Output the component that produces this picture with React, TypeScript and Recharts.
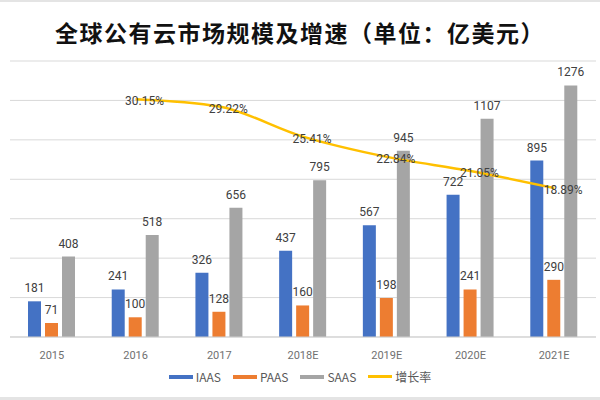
import React from "react";
import {
  Bar,
  CartesianGrid,
  ComposedChart,
  LabelList,
  Line,
  XAxis,
  YAxis
} from "recharts";

const years = ["2015", "2016", "2017", "2018E", "2019E", "2020E", "2021E"];
const iaas = [181, 241, 326, 437, 567, 722, 895];
const paas = [71, 100, 128, 160, 198, 241, 290];
const saas = [408, 518, 656, 795, 945, 1107, 1276];
const growth = [null, 0.3015, 0.2922, 0.2541, 0.2284, 0.2105, 0.1889];
const leftTicks = [0, 200, 400, 600, 800, 1000, 1200, 1400];

const series = [
  { key: "iaas", name: "IAAS", color: "#4472C4" },
  { key: "paas", name: "PAAS", color: "#ED7D31" },
  { key: "saas", name: "SAAS", color: "#A5A5A5" },
  { key: "growth", name: "增长率", color: "#FFC000" }
];

const data = years.map((y, i) => ({
  year: y,
  iaas: iaas[i],
  paas: paas[i],
  saas: saas[i],
  growth: growth[i]
}));

const labelFont = { fontSize: 12, fill: "#404040", fontFamily: "Roboto, 'Liberation Sans', sans-serif" };

function pctLabel(props: any) {
  const { x, y, value } = props;
  if (value == null) return null;
  return (
    <text x={x + 9} y={y + 2} dy="0.35em" textAnchor="middle" {...labelFont} fontSize={12}>
      {(value * 100).toFixed(2)}%
    </text>
  );
}

export default function App() {
  return (
    <div
      style={{
        position: "absolute",
        left: 0,
        top: 0,
        width: 600,
        height: 400,
        background: "#fff",
        borderTop: "2px solid #e4e4e4",
        borderBottom: "3px solid #e4e4e4",
        boxSizing: "border-box",
        fontFamily: "'Noto Sans CJK SC', sans-serif"
      }}
    >
      <div
        style={{
          position: "absolute",
          top: 13,
          left: 0,
          width: 600,
          textAlign: "center",
          fontSize: 23,
          fontWeight: 700,
          color: "#111",
          letterSpacing: 1.5
        }}
      >
        全球公有云市场规模及增速（单位：亿美元）
      </div>
      <div style={{ position: "absolute", top: -2, left: 0 }}>
        <ComposedChart
          width={600}
          height={400}
          data={data}
          margin={{ top: 61, right: 4, bottom: 38, left: 10 }}
          barSize={13}
          barGap={4}
        >
          <CartesianGrid yAxisId="left" vertical={false} stroke="#d9d9d9" />
          <XAxis
            dataKey="year"
            height={25}
            axisLine={{ stroke: "#cfcfcf" }}
            tickLine={false}
            tick={{ fontSize: 11, fill: "#707070", fontFamily: "Roboto, sans-serif" }}
            tickMargin={8}
          />
          <YAxis
            yAxisId="left"
            width={0}
            domain={[0, 1400]}
            ticks={leftTicks}
            interval={0}
            tick={{ fontSize: 1, fill: "transparent" }}
            axisLine={false}
            tickLine={false}
          />
          <YAxis yAxisId="right" orientation="right" hide domain={[0, 0.35]} />
          {series.slice(0, 3).map((s) => (
            <Bar key={s.key} yAxisId="left" dataKey={s.key} name={s.name} fill={s.color} isAnimationActive={false}>
              <LabelList dataKey={s.key} position="top" offset={9} style={labelFont} />
            </Bar>
          ))}
          <Line
            yAxisId="right"
            type="monotone"
            dataKey="growth"
            name="增长率"
            stroke="#FFC000"
            strokeWidth={2.5}
            dot={false}
            isAnimationActive={false}
          >
            <LabelList dataKey="growth" content={pctLabel} />
          </Line>
        </ComposedChart>
      </div>
      <div
        style={{
          position: "absolute",
          top: 366,
          left: 0,
          width: 600,
          display: "flex",
          justifyContent: "center",
          alignItems: "center",
          gap: 12,
          fontSize: 12,
          color: "#595959"
        }}
      >
        {series.map((s) => (
          <div key={s.key} style={{ display: "flex", alignItems: "center", gap: 3 }}>
            <span style={{ display: "inline-block", width: 24, height: s.key === "growth" ? 3 : 4, background: s.color }} />
            <span>{s.name}</span>
          </div>
        ))}
      </div>
    </div>
  );
}
